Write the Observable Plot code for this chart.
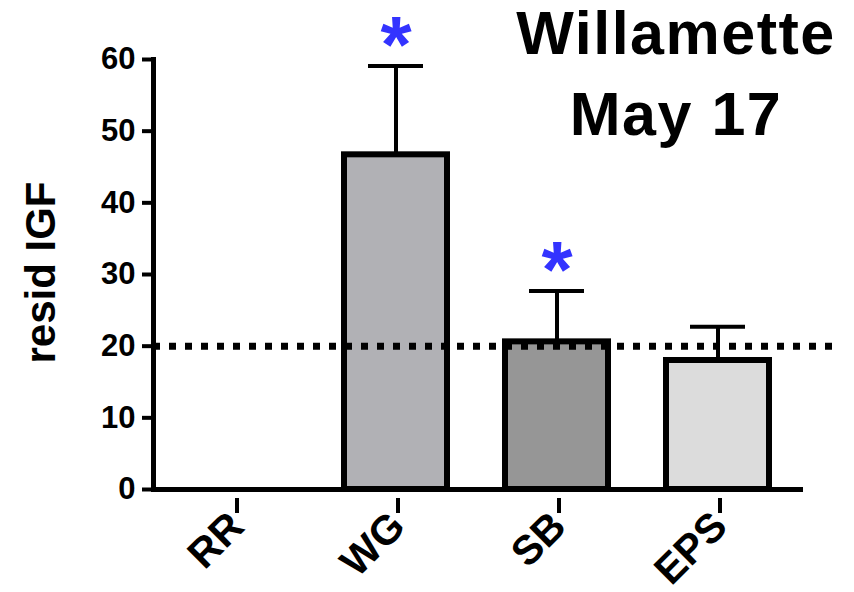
<!DOCTYPE html>
<html>
<head>
<meta charset="utf-8">
<script src="https://cdn.jsdelivr.net/npm/d3@7"></script>
<script src="https://cdn.jsdelivr.net/npm/@observablehq/plot@0.6"></script>
<style>
  html, body { margin: 0; padding: 0; background: #fff; }
  #wrap { position: relative; width: 854px; height: 592px; font-family: "Liberation Sans", Arial, Helvetica, sans-serif; }
  #title { position: absolute; left: 500px; top: 2px; width: 352px; text-align: center;
           font-size: 61px; font-weight: bold; color: #000; letter-spacing: 1.5px; z-index: 2; }
  #title div { line-height: 62px; white-space: nowrap; }
  #title div + div { margin-top: 19px; }
</style>
</head>
<body>
<div id="wrap"><div id="title"></div></div>
<script>
// ---- data ----
const categories = ["RR", "WG", "SB", "EPS"];
const means      = [null, 46.7, 20.6, 18.0];
const errTops    = [null, 59.1, 27.7, 22.7];
const significant = [false, true, true, false];
const yTicks = [0, 10, 20, 30, 40, 50, 60];
const refLevel = 20;
const titleLines = ["Willamette", "May 17"];
const yLabel = "resid IGF";

const data = categories.map((c, i) => ({cat: c, mean: means[i], err: errTops[i], sig: significant[i]}));
const barColors = ["#ffffff", "#b1b1b5", "#969696", "#dcdcdc"];

const titleEl = document.getElementById("title");
titleLines.forEach(t => { const d = document.createElement("div"); d.textContent = t; titleEl.appendChild(d); });

const chart = Plot.plot({
  width: 854,
  height: 592,
  marginLeft: 153,
  marginRight: 16,
  marginTop: 59,
  marginBottom: 103,
  style: {fontFamily: "'Liberation Sans', Arial, Helvetica, sans-serif", fontWeight: "bold", color: "#000", background: "transparent"},
  x: {domain: categories, range: [153, 800], paddingInner: 0.36, paddingOuter: 0.18, align: 0.5, label: null},
  y: {domain: [0, 60], label: null},
  color: {domain: categories, range: barColors},
  marks: [
    Plot.ruleX(data.filter(d => d.mean != null), {x: "cat", y1: "mean", y2: "err", stroke: "#000", strokeWidth: 4}),
    Plot.tickY(data.filter(d => d.mean != null), {x: "cat", y: "err", stroke: "#000", strokeWidth: 4, insetLeft: 24, insetRight: 24}),
    Plot.barY(data.filter(d => d.mean != null), {x: "cat", y: "mean", fill: "cat", stroke: "#000", strokeWidth: 6}),
    Plot.ruleY([refLevel], {stroke: "#000", strokeWidth: 7, strokeDasharray: "7,9"}),
    Plot.frame({anchor: "left", stroke: "#000", strokeWidth: 5}),
    Plot.frame({anchor: "bottom", stroke: "#000", strokeWidth: 5, insetRight: 38}),
    Plot.axisY({ticks: yTicks, tickSize: 11, tickPadding: 7, fontSize: 31, strokeWidth: 4, label: null}),
    Plot.axisX({tickSize: 15, tickPadding: 6, tickRotate: -45, fontSize: 41, strokeWidth: 4, label: null, dy: 9, dx: 2}),
    Plot.text(data.filter(d => d.sig), {x: "cat", y: "err", text: () => "*", fill: "#3333ff", fontSize: 80, dy: -20}),
    Plot.text([yLabel], {frameAnchor: "left", textAnchor: "middle", rotate: -90, dx: -112, dy: -2, fontSize: 42})
  ]
});
document.getElementById("wrap").appendChild(chart);
chart.style.position = "absolute";
chart.style.left = "0";
chart.style.top = "0";
</script>
</body>
</html>
